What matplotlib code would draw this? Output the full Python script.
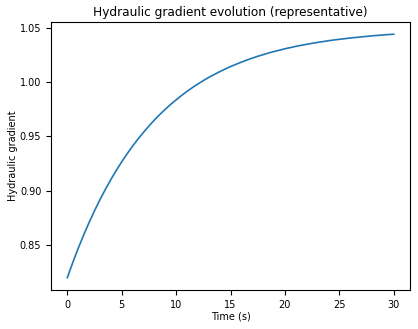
import matplotlib
matplotlib.use("Agg")
import matplotlib.pyplot as plt

# Values (0.5 s steps)
time_s = [i * 0.5 for i in range(61)]
gradient = [
    0.8200, 0.8339, 0.8470, 0.8592, 0.8708, 0.8816, 0.8918, 0.9013, 0.9103, 0.9187,
    0.9267, 0.9341, 0.9411, 0.9477, 0.9538, 0.9596, 0.9651, 0.9702, 0.9750, 0.9795,
    0.9837, 0.9877, 0.9915, 0.9950, 0.9983, 1.0014, 1.0043, 1.0070, 1.0096, 1.0120,
    1.0143, 1.0164, 1.0184, 1.0203, 1.0221, 1.0238, 1.0253, 1.0268, 1.0282, 1.0294,
    1.0307, 1.0318, 1.0329, 1.0339, 1.0348, 1.0357, 1.0366, 1.0373, 1.0381, 1.0388,
    1.0394, 1.0400, 1.0406, 1.0411, 1.0416, 1.0421, 1.0426, 1.0430, 1.0434, 1.0438,
    1.0441,
]

fig, ax = plt.subplots(figsize=(4.18, 3.29), dpi=100)
fig.subplots_adjust(left=0.122, right=0.981, top=0.933, bottom=0.119)

ax.plot(time_s, gradient, color='#1f77b4', linewidth=1.2)
ax.set_xticks([0, 5, 10, 15, 20, 25, 30])
ax.set_yticks([0.85, 0.90, 0.95, 1.00, 1.05])
ax.tick_params(labelsize=7)
ax.set_xlabel('Time (s)', fontsize=7, labelpad=1.5)
ax.set_ylabel('Hydraulic gradient', fontsize=7, labelpad=1)
ax.set_title('Hydraulic gradient evolution (representative)', fontsize=8.7, pad=4.5)

fig.savefig('out.png', dpi=100)
